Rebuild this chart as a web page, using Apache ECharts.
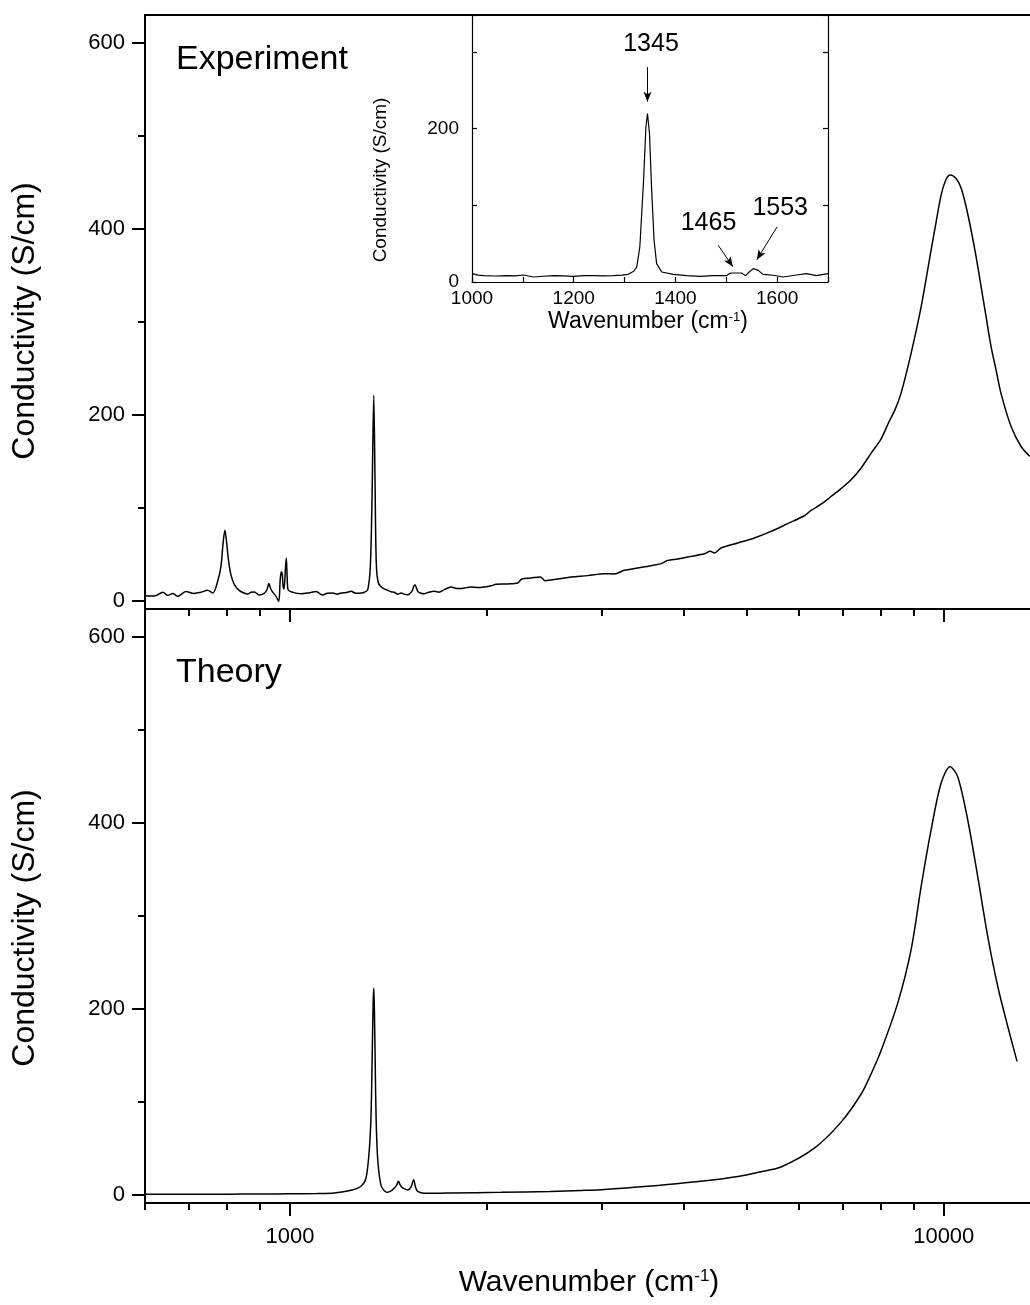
<!DOCTYPE html>
<html>
<head>
<meta charset="utf-8">
<script src="https://cdn.jsdelivr.net/npm/echarts@6/dist/echarts.min.js"></script>
<style>
  html, body { margin: 0; padding: 0; background: #fff; overflow: hidden; }
  #main { width: 1030px; height: 1305px; }
</style>
</head>
<body>
<div id="main"></div>
<script>
// measured spectrum, experiment (wavenumber in cm-1, conductivity in S/cm)
var expWavenumber = [600, 613, 624, 639, 650, 662, 673, 693, 713, 731, 748, 762, 775, 784, 790, 795, 799, 805, 812, 822,
  836, 848, 861, 872, 882, 897, 913, 922, 928, 934, 939, 952, 961, 966, 969, 972, 976, 979, 984, 987, 990, 993,
  1010, 1040, 1064, 1096, 1122, 1140, 1162, 1180, 1197, 1220, 1240, 1260, 1284, 1300, 1315, 1327, 1335, 1343, 1349, 1355,
  1365, 1386, 1411, 1428, 1444, 1460, 1479, 1495, 1514, 1536, 1546, 1553, 1568, 1585, 1605, 1630, 1663, 1690, 1722, 1763,
  1800, 1826, 1860, 1892, 1940, 1983, 2030, 2066, 2150, 2230, 2262, 2338, 2415, 2455, 2568, 2691, 2854, 3026, 3134, 3247,
  3403, 3566, 3694, 3783, 3918, 4106, 4303, 4395, 4458, 4563, 4841, 5132, 5442, 5770, 6120, 6266, 6500, 6722, 6950, 7216,
  7480, 7744, 8020, 8249, 8430, 8603, 8913, 9234, 9564, 9733, 9906, 10081, 10235, 10443, 10630, 10820, 11010, 11207, 11405,
  11608, 11814, 12025, 12234, 12677, 13131, 13550];
var expConductivity = [5.2, 5.0, 5.6, 8.9, 5.7, 7.8, 4.6, 9.7, 7.8, 9, 11.1, 8.2, 20.8, 36.9, 62, 75.6, 65.6, 44, 28, 17.2,
  11, 8.5, 7.2, 9, 9.4, 6, 7.8, 12, 18.3, 13, 10, 4.6, -1, 22.6, 30, 30.8, 15, 12.5, 35, 45.8, 25, 11.8,
  8.9, 7.5, 8.2, 9.7, 6, 8, 8.2, 7, 8.2, 8.8, 10, 8, 8.2, 9, 11.8, 36.9, 112, 221, 130, 40.5,
  19, 13.6, 11, 9.5, 9, 7, 8.2, 7, 6.4, 10, 15, 17.2, 10, 8, 7.5, 9, 10, 9, 11.8, 14.7,
  13, 13, 14, 14.7, 14, 14.7, 16, 17.5, 18, 19, 23.3, 24.4, 25.5, 21.5, 23.3, 25.5, 26.9, 29, 28.7, 32.6,
  35.1, 37.6, 39.8, 43.3, 44.8, 47.6, 50.5, 53, 51.3, 56.6, 62, 67.4, 74.5, 82.8, 91.3, 97, 104, 112, 120, 130,
  143, 158.7, 174, 192.7, 206, 223, 266, 316, 377, 407, 436, 453, 457.8, 454, 444, 423.7, 398.7, 370, 337.8,
  305.5, 273.3, 248, 223, 187.3, 165.8, 155];

// calculated spectrum, theory
var theoryWavenumber = [600, 700, 800, 900, 1000, 1100, 1169, 1240, 1284, 1307, 1322, 1330, 1335, 1340, 1343, 1346, 1350,
  1354, 1362, 1378, 1395, 1411, 1436, 1455, 1465, 1475, 1487, 1514, 1531, 1546, 1556, 1568, 1605, 1700, 1763, 2103, 2500,
  2788, 2991, 3525, 4458, 5014, 5254, 5637, 6339, 6965, 7472, 7744, 8020, 8503, 8913, 9234, 9564, 9906, 10224, 10505, 10882,
  11272, 11677, 12096, 12530, 12946];
var theoryConductivity = [0.3, 0.4, 0.5, 0.7, 0.9, 1.2, 1.8, 4.7, 9, 18, 48, 84, 140, 205, 222, 200, 140,
  84, 37.6, 9.7, 4, 2.5, 5.4, 10, 14.3, 10, 7.2, 5, 8, 16.1, 8, 3.6, 1.6, 1.6, 1.8, 2.5, 3.5,
  4.5, 5.3, 9, 16.1, 21.5, 24.7, 29.7, 50, 78, 108, 130, 155, 206, 263.3, 331.3, 392.3, 442.5, 460.3, 449.6, 403,
  342, 277.6, 223.9, 180.9, 143.3];

// inset: zoom of the experiment between 1000 and 1700 cm-1
var insetWavenumber = [1000, 1012, 1023, 1045, 1069, 1085, 1101, 1121, 1140, 1160, 1180, 1199, 1220, 1239, 1260, 1278,
  1295, 1307, 1318, 1324, 1330, 1337, 1342, 1345, 1349, 1353, 1358, 1363, 1373, 1396, 1422, 1448, 1474, 1501, 1506,
  1510, 1530, 1538, 1545, 1553, 1563, 1572, 1592, 1612, 1638, 1658, 1677, 1700];
var insetConductivity = [11, 9, 8.3, 7.8, 8.3, 8, 9.1, 6.5, 7.5, 8.3, 8, 7.4, 8.2, 8.3, 8, 8.3,
  9, 10, 14, 19.6, 45.6, 128, 202, 219.6, 193.5, 124, 54.4, 24, 13, 10, 8.3, 7.4, 8.3, 8.3, 11,
  11.7, 11.7, 8.3, 13, 17.4, 15.2, 10, 8.8, 6.5, 9.1, 11, 8.3, 11];

// ticks
var xMajorTicks = [1000, 10000];
var xMinorTicks = [600, 700, 800, 900, 2000, 3000, 4000, 5000, 6000, 7000, 8000, 9000];
var yMajorTicks = [0, 200, 400, 600];
var yMinorTicks = [100, 300, 500];
var insetXLabels = [1000, 1200, 1400, 1600];
var insetYLabels = [0, 200];

// peak annotations in the inset: label text, label point, arrow start, arrow end
var peakNames = ['1345', '1465', '1553'];
var peakLabelAt = [[1352, 310], [1465, 77], [1606, 96]];
var arrowFrom = [[1345, 280], [1484, 48], [1600, 72]];
var arrowTo = [[1345, 235], [1513, 20], [1560, 29]];

var FONT = '"Liberation Sans", Arial, Helvetica, sans-serif';
var X_MIN = 600, X_MAX = 13550;
var Y_MIN = -9, Y_MAX = 630;

function zip(xs, ys) {
  return xs.map(function (x, i) { return [x, ys[i]]; });
}

function logAxis(grid, ticks, len, labels) {
  return {
    type: 'log', logBase: 10, gridIndex: grid, position: 'bottom', min: X_MIN, max: X_MAX,
    axisLine: { show: true, onZero: false, lineStyle: { color: '#000', width: 2 } },
    axisTick: { show: true, customValues: ticks, length: len, lineStyle: { color: '#000', width: 2 } },
    axisLabel: {
      show: labels, customValues: xMajorTicks, fontSize: 22, margin: 23, color: '#000', fontFamily: FONT,
      formatter: function (v) { return String(Math.round(v)); }
    },
    splitLine: { show: false }
  };
}

function mainYAxis(grid, ticks, len, labels) {
  return {
    type: 'value', gridIndex: grid, position: 'left', min: Y_MIN, max: Y_MAX,
    axisLine: { show: true, onZero: false, lineStyle: { color: '#000', width: 2 } },
    axisTick: { show: true, customValues: ticks, length: len, lineStyle: { color: '#000', width: 2 } },
    axisLabel: { show: labels, customValues: yMajorTicks, fontSize: 22, margin: 20, color: '#000', fontFamily: FONT },
    splitLine: { show: false }
  };
}

var myChart = echarts.init(document.getElementById('main'));

var option = {
  animation: false,
  backgroundColor: '#fff',
  textStyle: { fontFamily: FONT, color: '#000' },
  grid: [
    { left: 145, top: 15, right: 0, height: 594 },
    { left: 145, top: 609, right: 0, height: 594 },
    { left: 472, top: 15, width: 356, height: 267 }
  ],
  xAxis: [
    logAxis(0, xMajorTicks, 13, false),
    logAxis(0, xMinorTicks, 7, false),
    {
      type: 'log', gridIndex: 0, position: 'top', min: X_MIN, max: X_MAX,
      axisLine: { show: true, onZero: false, lineStyle: { color: '#000', width: 2 } },
      axisTick: { show: false }, axisLabel: { show: false }, splitLine: { show: false }
    },
    logAxis(1, xMajorTicks, 13, true),
    logAxis(1, xMinorTicks, 7, false),
    {
      type: 'value', gridIndex: 2, position: 'bottom', min: 1000, max: 1700, interval: 100,
      axisLine: { show: true, onZero: false, lineStyle: { color: '#000', width: 1.2 } },
      axisTick: { show: true, inside: true, length: 5, lineStyle: { color: '#000', width: 1.2 } },
      axisLabel: {
        fontSize: 19, margin: 7, color: '#000', fontFamily: FONT,
        formatter: function (v) { return insetXLabels.indexOf(v) >= 0 ? String(v) : ''; }
      },
      splitLine: { show: false }
    }
  ],
  yAxis: [
    mainYAxis(0, yMajorTicks, 13, true),
    mainYAxis(0, yMinorTicks, 7, false),
    mainYAxis(1, yMajorTicks, 13, true),
    mainYAxis(1, yMinorTicks, 7, false),
    {
      type: 'value', gridIndex: 2, position: 'left', min: 0, max: 348, interval: 100,
      axisLine: { show: true, onZero: false, lineStyle: { color: '#000', width: 1.2 } },
      axisTick: { show: true, inside: true, length: 5, lineStyle: { color: '#000', width: 1.2 } },
      axisLabel: {
        fontSize: 19, margin: 13, color: '#000', fontFamily: FONT,
        formatter: function (v) { return insetYLabels.indexOf(v) >= 0 ? String(v) : ''; }
      },
      splitLine: { show: false }
    },
    {
      type: 'value', gridIndex: 2, position: 'right', min: 0, max: 348, interval: 100,
      axisLine: { show: true, onZero: false, lineStyle: { color: '#000', width: 1.2 } },
      axisTick: { show: true, inside: true, length: 5, lineStyle: { color: '#000', width: 1.2 } },
      axisLabel: { show: false },
      splitLine: { show: false }
    }
  ],
  series: [
    {
      name: 'Experiment', type: 'line', xAxisIndex: 0, yAxisIndex: 0,
      data: zip(expWavenumber, expConductivity),
      showSymbol: false, smooth: 0.3,
      lineStyle: { color: '#000', width: 1.5 }
    },
    {
      name: 'Theory', type: 'line', xAxisIndex: 3, yAxisIndex: 2,
      data: zip(theoryWavenumber, theoryConductivity),
      showSymbol: false, smooth: 0.3,
      lineStyle: { color: '#000', width: 1.5 }
    },
    {
      name: 'Inset', type: 'line', xAxisIndex: 5, yAxisIndex: 4,
      data: zip(insetWavenumber, insetConductivity),
      showSymbol: false, smooth: false,
      lineStyle: { color: '#000', width: 1.2 },
      markLine: {
        silent: true,
        symbol: ['none', 'arrow'],
        symbolSize: [6, 10],
        lineStyle: { color: '#000', width: 1, type: 'solid' },
        label: { show: false },
        data: arrowFrom.map(function (a, i) {
          return [{ coord: a }, { coord: arrowTo[i] }];
        })
      },
      markPoint: {
        silent: true,
        symbol: 'circle',
        symbolSize: 0,
        label: { show: true, position: 'inside', formatter: '{b}', fontSize: 25, color: '#000', fontFamily: FONT },
        data: peakNames.map(function (n, i) {
          return { name: n, coord: peakLabelAt[i] };
        })
      }
    }
  ],
  graphic: [
    { type: 'text', x: 176, y: 60, style: { text: 'Experiment', fontSize: 34, fontFamily: FONT, fill: '#000', textAlign: 'left', textVerticalAlign: 'middle' } },
    { type: 'text', x: 176, y: 673, style: { text: 'Theory', fontSize: 34, fontFamily: FONT, fill: '#000', textAlign: 'left', textVerticalAlign: 'middle' } },
    { type: 'text', x: 25, y: 321, rotation: Math.PI / 2, style: { text: 'Conductivity (S/cm)', fontSize: 32, fontFamily: FONT, fill: '#000', textAlign: 'center', textVerticalAlign: 'middle' } },
    { type: 'text', x: 25, y: 928, rotation: Math.PI / 2, style: { text: 'Conductivity (S/cm)', fontSize: 32, fontFamily: FONT, fill: '#000', textAlign: 'center', textVerticalAlign: 'middle' } },
    { type: 'text', x: 381, y: 180, rotation: Math.PI / 2, style: { text: 'Conductivity (S/cm)', fontSize: 19, fontFamily: FONT, fill: '#000', textAlign: 'center', textVerticalAlign: 'middle' } },
    {
      type: 'text', x: 589, y: 1283,
      style: {
        text: '{t|Wavenumber (cm}{s|-1}{t|)}', textAlign: 'center', textVerticalAlign: 'middle', fill: '#000',
        rich: {
          t: { fontSize: 30, fontFamily: FONT, fill: '#000', verticalAlign: 'bottom' },
          s: { fontSize: 17, fontFamily: FONT, fill: '#000', verticalAlign: 'top' }
        }
      }
    },
    {
      type: 'text', x: 648, y: 322,
      style: {
        text: '{t|Wavenumber (cm}{s|-1}{t|)}', textAlign: 'center', textVerticalAlign: 'middle', fill: '#000',
        rich: {
          t: { fontSize: 23, fontFamily: FONT, fill: '#000', verticalAlign: 'bottom' },
          s: { fontSize: 13, fontFamily: FONT, fill: '#000', verticalAlign: 'top' }
        }
      }
    }
  ]
};

myChart.setOption(option);
</script>
</body>
</html>
